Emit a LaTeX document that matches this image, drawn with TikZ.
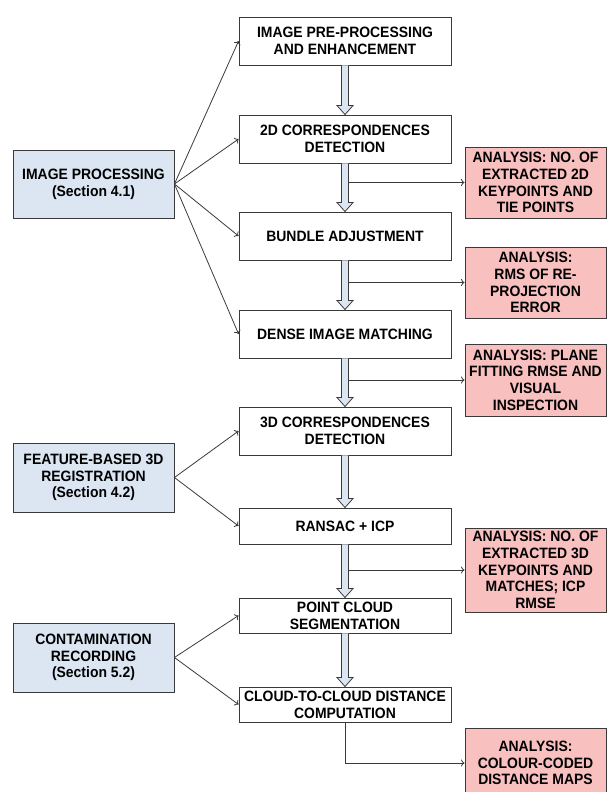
\documentclass[tikz,border=0pt]{standalone}
\usepackage{fontspec}
\setmainfont{Liberation Sans}[FakeStretch=0.93]
\usetikzlibrary{calc}
\usetikzlibrary{arrows.meta}
\definecolor{sectfill}{HTML}{DCE6F2}
\definecolor{anafill}{HTML}{F9C0C0}
\definecolor{edge}{HTML}{3A3A3A}
\tikzset{
  stage/.style={draw=edge, line width=0.9pt, minimum width=212, minimum height=48, align=center, font=\bfseries\fontsize{15}{16.7}\selectfont, inner sep=1pt},
  section/.style={stage, fill=sectfill, minimum width=161, minimum height=68},
  analysis/.style={stage, fill=anafill, minimum width=141, minimum height=71},
  link/.style={draw=edge, line width=0.8pt, -{To[length=3.5pt, width=7pt]}},
  flow/.style={draw=edge, line width=0.8pt, fill=sectfill}
}

\begin{document}
\begin{tikzpicture}[x=1pt, y=-1pt]
\useasboundingbox (0,0) rectangle (607,792);
% processing chain
\node[stage] (pre) at (345,41) {IMAGE PRE-PROCESSING\\AND ENHANCEMENT};
\node[stage] (corr2d) at (345,139) {2D CORRESPONDENCES\\DETECTION};
\node[stage] (bundle) at (345,236) {BUNDLE ADJUSTMENT};
\node[stage] (dense) at (345,334) {DENSE IMAGE MATCHING};
\node[stage] (corr3d) at (345,431) {3D CORRESPONDENCES\\DETECTION};
\node[stage, minimum height=36] (ransac) at (345,526) {RANSAC + ICP};
\node[stage, minimum height=35] (seg) at (345,615.5) {POINT CLOUD\\SEGMENTATION};
\node[stage, minimum height=35] (c2c) at (345,704.5) {CLOUD-TO-CLOUD DISTANCE\\COMPUTATION};
% sections
\node[section] (improc) at (93.5,184) {IMAGE PROCESSING\\(Section 4.1)};
\node[section, minimum height=69] (featreg) at (93.5,477.5) {FEATURE-BASED 3D\\REGISTRATION\\(Section 4.2)};
\node[section, minimum height=69] (contam) at (93.5,657.5) {CONTAMINATION\\RECORDING\\(Section 5.2)};
% analyses
\node[analysis] (ana2d) at (535.5,182.5) {ANALYSIS: NO. OF\\EXTRACTED 2D\\KEYPOINTS AND\\TIE POINTS};
\node[analysis] (anarms) at (535.5,282.5) {ANALYSIS:\\RMS OF RE-\\PROJECTION\\ERROR};
\node[analysis, minimum height=72] (anaplane) at (535.5,380) {ANALYSIS: PLANE\\FITTING RMSE AND\\VISUAL\\INSPECTION};
\node[analysis, minimum height=84] (ana3d) at (535.5,570) {ANALYSIS: NO. OF\\EXTRACTED 3D\\KEYPOINTS AND\\MATCHES; ICP\\RMSE};
\node[analysis, minimum height=70] (anamap) at (535.5,763) {ANALYSIS:\\COLOUR-CODED\\DISTANCE MAPS};
% hollow arrows down the chain
\foreach \a/\b in {pre/corr2d, corr2d/bundle, bundle/dense, dense/corr3d, corr3d/ransac, ransac/seg, seg/c2c}{
  \draw[flow] ($(\a.south)+(-3.5,0)$) -- ($(\b.north)+(-3.5,-9)$) -- ($(\b.north)+(-8,-9)$) -- (\b.north)
    -- ($(\b.north)+(8,-9)$) -- ($(\b.north)+(3.5,-9)$) -- ($(\a.south)+(3.5,0)$);}
% section links
\foreach \s/\t in {improc/pre, improc/corr2d, improc/bundle, improc/dense, featreg/corr3d, featreg/ransac, contam/seg, contam/c2c}{
  \draw[link] (\s.east) -- (\t.west);}
% analysis links
\draw[link] ([xshift=3.5]ana2d.west -| corr2d.south) -- (ana2d.west);
\draw[link] ([xshift=3.5]anarms.west -| bundle.south) -- (anarms.west);
\draw[link] ([xshift=3.5]anaplane.west -| dense.south) -- (anaplane.west);
\draw[link] ([xshift=3.5]ana3d.west -| ransac.south) -- (ana3d.west);
\draw[link] (c2c.south) |- (anamap.west);
\end{tikzpicture}
\end{document}
